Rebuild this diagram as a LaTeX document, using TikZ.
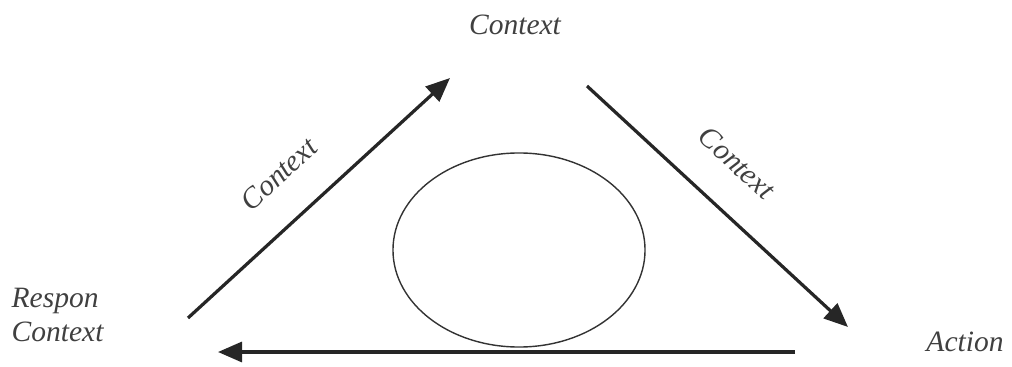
\documentclass[tikz,border=0pt]{standalone}
\usepackage{fontspec}
\setmainfont{Liberation Serif}
\usetikzlibrary{arrows.meta, shapes.geometric}
\tikzset{
  lbl/.style={font=\itshape\fontsize{21}{24}\selectfont, text=black!75, inner sep=1pt},
  flow/.style={-{Triangle[length=6mm, width=5mm]}, line width=2.3pt, black!85},
  core/.style={ellipse, draw=black!80, line width=1pt, inner sep=0pt,
               minimum width=6.3cm, minimum height=4.85cm},
}
\begin{document}
\begin{tikzpicture}[x=0.025cm, y=-0.025cm]
  \useasboundingbox (0,0) rectangle (1012,367);
  % triangle ends
  \coordinate (l0) at (188,318);
  \coordinate (l1) at (450,78);
  \coordinate (r0) at (587,86);
  \coordinate (r1) at (848,327);
  \coordinate (b0) at (795,352);
  \coordinate (b1) at (218,352);
  \node[lbl] (top) at (515,25) {Context};
  \node[lbl, align=left, anchor=west] (resp) at (10,315) {Respon\\Context};
  \node[lbl] (act) at (965,342) {Action};
  \node[lbl, rotate=42.5] (cl) at (279,174) {Context};
  \node[lbl, rotate=-42.7] (cr) at (737,163) {Context};
  \node[core] (loop) at (519,250) {};
  \draw[flow] (l0) -- (l1);
  \draw[flow] (r0) -- (r1);
  \draw[flow] (b0) -- (b1);
\end{tikzpicture}
\end{document}
